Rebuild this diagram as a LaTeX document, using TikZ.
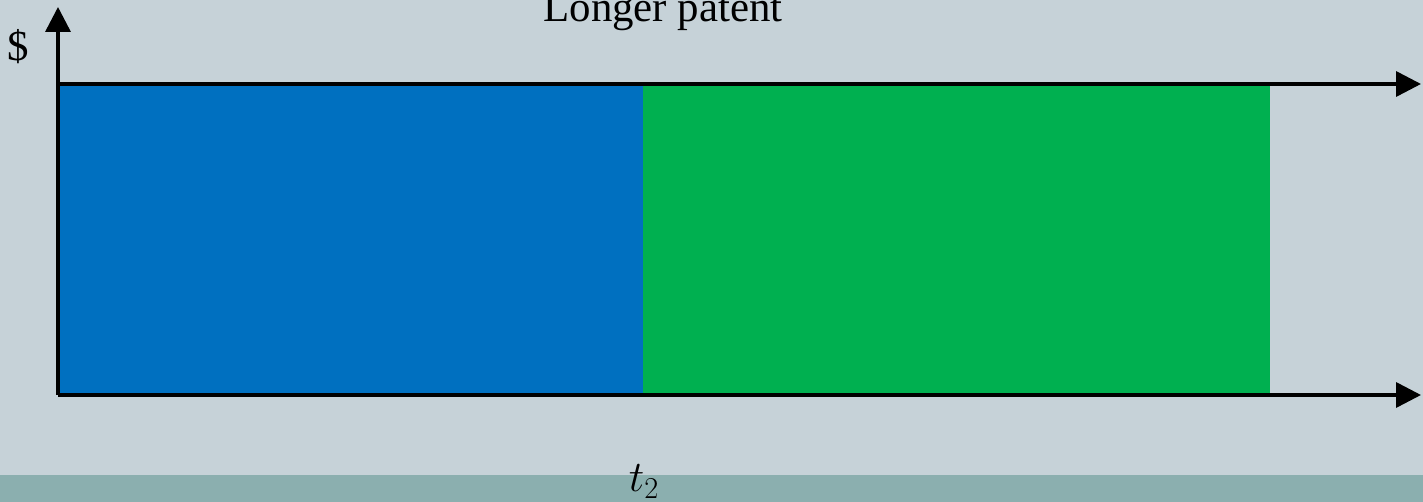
\documentclass[tikz,border=0pt]{standalone}
\usepackage{fontspec}
\setmainfont{Liberation Serif}
\usetikzlibrary{arrows.meta}
\definecolor{slidebg}{HTML}{C6D2D8}
\definecolor{slideband}{HTML}{8BAFAF}
\definecolor{patentblue}{HTML}{0070C0}
\definecolor{patentgreen}{HTML}{00B050}

\begin{document}
\begin{tikzpicture}[x=0.02cm,y=-0.02cm,
    axis/.style={line width=2pt,-{Triangle[length=0.5cm,width=0.5cm]}},
    lbl/.style={inner sep=0pt,anchor=base,font=\fontsize{24.4}{29}\selectfont}]
    \useasboundingbox (0,0) rectangle (1423,502);
    \fill[slidebg] (0,0) rectangle (1423,502);
    \fill[slideband] (0,475) rectangle (1423,502);
    % areas under the two periods
    \fill[patentblue] (58,85) rectangle (643,395);
    \fill[patentgreen] (643,85) rectangle (1270,395);
    \coordinate (origin) at (58,395);
    \coordinate (ytop) at (58,7);
    \coordinate (pleft) at (58,84);
    \coordinate (pright) at (1421,84);
    \coordinate (tright) at (1421,395);
    \draw[axis] (origin) -- (ytop);
    \draw[axis] (pleft) -- (pright);
    \draw[axis] (origin) -- (tright);
    \node[lbl] (title) at (663,22) {Longer patent};
    \node[lbl] (dollar) at (18,61) {\$};
    \node[lbl,font=\fontsize{27}{32}\selectfont] (tlabel) at (644,492) {$t_2$};
  \end{tikzpicture}
\end{document}
